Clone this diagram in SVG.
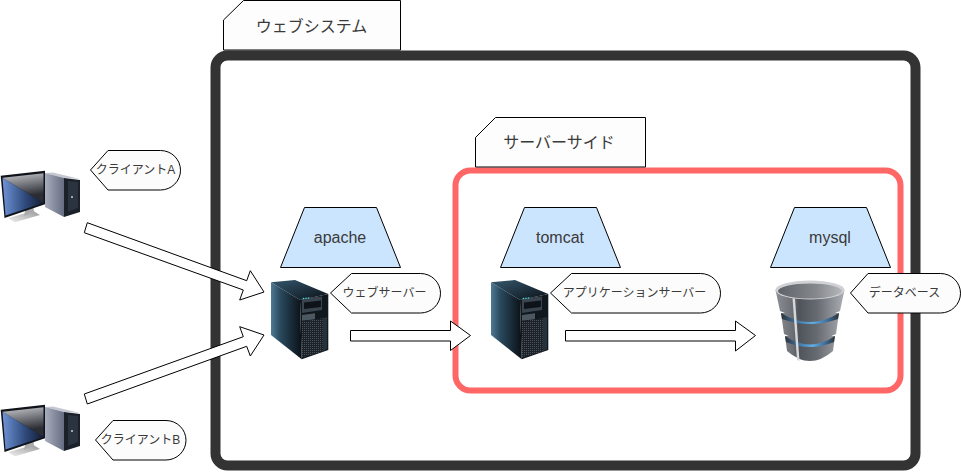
<svg xmlns="http://www.w3.org/2000/svg" width="961" height="472" viewBox="0 0 961 472">
<style>
text{font-family:"Liberation Sans","Noto Sans CJK JP",sans-serif;fill:#3a3a3a;text-anchor:middle;dominant-baseline:central}
.tab{fill:#fdfdfd;stroke:#000;stroke-width:1}
.trap{fill:#cce5ff;stroke:#000;stroke-width:1}
.call{fill:#fcfcfc;stroke:#000;stroke-width:1}
.arr{fill:#fff;stroke:#000;stroke-width:1}
.t16{font-size:16px}
.t12{font-size:12px}
</style>
<defs>
<linearGradient id="scrB" x1="0" y1="0" x2="1" y2="0"><stop offset="0" stop-color="#6f93d6"/><stop offset=".55" stop-color="#2f4a7c"/><stop offset="1" stop-color="#131c33"/></linearGradient>
<linearGradient id="scrG" x1="0" y1="0" x2=".2" y2="1"><stop offset="0" stop-color="#c9cbd0"/><stop offset=".85" stop-color="#2a2d33"/></linearGradient>
<linearGradient id="side" x1="0" y1="0" x2="1" y2="0"><stop offset="0" stop-color="#a8aebc"/><stop offset="1" stop-color="#666d82"/></linearGradient>
<linearGradient id="stand" x1="0" y1="1" x2="1" y2="0"><stop offset="0" stop-color="#eee"/><stop offset="1" stop-color="#999"/></linearGradient>
<linearGradient id="srv" x1="0" y1="0" x2="1" y2="0"><stop offset="0" stop-color="#4f7a93"/><stop offset=".3" stop-color="#2a4a5e"/><stop offset="1" stop-color="#0a1016"/></linearGradient>
<linearGradient id="srvTop" x1="0" y1="0" x2="1" y2="1"><stop offset="0" stop-color="#35586e"/><stop offset="1" stop-color="#0c1218"/></linearGradient>
<linearGradient id="cyl" gradientUnits="userSpaceOnUse" x1="775" y1="0" x2="845" y2="0"><stop offset="0" stop-color="#8d9095"/><stop offset=".26" stop-color="#6a6d73"/><stop offset=".34" stop-color="#4f535a"/><stop offset=".6" stop-color="#666a71"/><stop offset="1" stop-color="#adb0b4"/></linearGradient>
<linearGradient id="rim" x1="0" y1="0" x2="1" y2="0"><stop offset="0" stop-color="#5f6268"/><stop offset=".6" stop-color="#85888d"/><stop offset="1" stop-color="#b5b7ba"/></linearGradient>
<linearGradient id="blue" x1="0" y1="0" x2="1" y2="0"><stop offset="0" stop-color="#2d3238"/><stop offset=".25" stop-color="#3c6f9c"/><stop offset=".55" stop-color="#62aee6"/><stop offset=".8" stop-color="#3c6f9c"/><stop offset="1" stop-color="#2d3238"/></linearGradient>
<pattern id="mesh" width="2" height="2" patternUnits="userSpaceOnUse"><rect width="2" height="2" fill="#1c2228"/><rect width="1" height="1" fill="#4a525a"/></pattern>
<g id="pc">
<path d="M8.300 218.300 33 210.700 40 215 15 222.300Z" fill="url(#stand)"/>
<path d="M24 216 26 207 33 205 34 211Z" fill="#aaa"/>
<path d="M45 173 53 172.500 80 179 64 178Z" fill="#c5c8d0"/>
<path d="M45 173 64 178 64 217 45 207Z" fill="url(#side)"/>
<path d="M64 178 80 180 80 212 64 217Z" fill="#1b2029"/>
<path d="M68 181 78 182 78 208 68 212Z" fill="#2c3340"/>
<circle cx="72" cy="197" r="1" fill="#ccc"/>
<path d="M0.700 175.700 45 170.700 45 204.300 4.500 218Z" fill="#10131a"/>
<path d="M2.500 177.800 43.500 203 5.500 215.500Z" fill="url(#scrB)"/>
<path d="M2.500 177.800 43.500 173.200 43.500 203Z" fill="url(#scrG)"/>
</g>
<g id="srvIcon">
<path d="M271 282.300 295 280 328.300 294 300 300Z" fill="url(#srvTop)"/>
<path d="M271 282.300 300 300 301.700 359.300 271 335Z" fill="url(#srv)"/>
<path d="M300 300 328.300 294 328.300 350 301.700 359.300Z" fill="#10171d"/>
<path d="M302 298.500 322 296.500 322 310 302 313Z" fill="#39444e"/>
<path d="M304 302.500 321 300.500 321 307 304 309Z" fill="#0d1318"/>
<path d="M302 315 315 313.300 315 319.300 302 320.700Z" fill="#4c5861"/>
<path d="M302 321.700 322.700 318.300 322.700 351.700 302 357.300Z" fill="url(#mesh)"/>
<path d="M323 318 327 317 327 349 323 351Z" fill="#24323c"/>
<circle cx="303.500" cy="298.500" r=".8" fill="#4dd"/><circle cx="306" cy="298.300" r=".8" fill="#4dd"/><circle cx="308.500" cy="298" r=".8" fill="#4dd"/>
</g>
</defs>

<g id="web-system-frame"><rect x="215.500" y="55.500" width="700" height="410" rx="12" fill="#fff" stroke="#333" stroke-width="10"/></g>
<g id="web-system-tab"><path class="tab" d="M243.500 .5H400.500V50H223.500V20Z"/><text class="t16" x="311.500" y="26">ウェブシステム</text></g>
<g id="server-side-frame"><rect x="455.500" y="170.500" width="445" height="220" rx="15" fill="none" stroke="#f66" stroke-width="6"/></g>
<g id="server-side-tab"><path class="tab" d="M495.500 117.500H645.500V167H475.500V137.500Z"/><text class="t16" x="559" y="142">サーバーサイド</text></g>

<g id="apache"><path class="trap" d="M304.500 207.500H376.500L400.500 267.500H280.500Z"/><text class="t16" x="340" y="237.500">apache</text></g>
<g id="tomcat"><path class="trap" d="M524.500 207.500H596.500L620.500 267.500H500.500Z"/><text class="t16" x="560" y="237.500">tomcat</text></g>
<g id="mysql"><path class="trap" d="M794.500 207.500H866.500L890.500 267.500H770.500Z"/><text class="t16" x="830" y="237.500">mysql</text></g>

<g id="client-a"><use href="#pc"/></g>
<g id="client-b"><use href="#pc" y="234"/></g>
<g id="web-server"><use href="#srvIcon"/></g>
<g id="app-server"><use href="#srvIcon" x="220"/></g>
<g id="database">
<path d="M785 336 787 351Q810 371 833 351L835 336Z" fill="url(#cyl)"/>
<path d="M785 336Q810 353 835 336L834 342Q810 352 786 342Z" fill="url(#blue)"/>
<path d="M781 313 784 334Q810 347 836 334L839 313Z" fill="url(#cyl)"/>
<path d="M781 313Q810 331 839 313L838 319Q810 329 782 319Z" fill="url(#blue)"/>
<path d="M775.500 290 780 311Q810 325 840 311L844.500 290Z" fill="url(#cyl)"/>
<path d="M792.500 298 795 298.500 799.500 361 797 360Z" fill="#d5d7d9"/>
<ellipse cx="810" cy="290" rx="34.500" ry="9.500" fill="#cfd1d4"/>
<ellipse cx="810" cy="291" rx="32" ry="7.500" fill="url(#rim)"/>
</g>

<g id="connectors">
<path class="arr" d="M87.300 222.700 246.700 280.700 250.300 270.700 264 292 239.700 300 243.300 290 84.300 232.700Z"/>
<path class="arr" d="M84.300 394 243.300 336.700 239.700 326.700 264 335 250.300 356 246.700 346.300 87.300 404Z"/>
<path class="arr" d="M350.500 330.500H450.500V321L470.500 335.500 450.500 350.500V341H350.500Z"/>
<path class="arr" d="M565.500 330.500H735.500V321L755.500 335.500 735.500 351V341H565.500Z"/>
</g>

<g id="label-client-a"><path class="call" d="M90.500 170 108 150.500H160.500A20 19.750 0 0 1 160.500 190H108Z"/><text class="t12" x="135.500" y="170">クライアントA</text></g>
<g id="label-client-b"><path class="call" d="M95.500 440 113 420.500H166A20 19.750 0 0 1 166 460H113Z"/><text class="t12" x="140.500" y="440">クライアントB</text></g>
<g id="label-web"><path class="call" d="M330.500 293 351.500 273.500H420.500A20 19.750 0 0 1 420.500 313H351.500Z"/><text class="t12" x="384.500" y="293">ウェブサーバー</text></g>
<g id="label-app"><path class="call" d="M550.500 293 571.500 273.500H700.500A20 19.750 0 0 1 700.500 313H571.500Z"/><text class="t12" x="634.500" y="293">アプリケーションサーバー</text></g>
<g id="label-db"><path class="call" d="M850.500 293 868 273.500H940.500A20 19.750 0 0 1 940.500 313H868Z"/><text class="t12" x="904.500" y="293">データベース</text></g>
</svg>
